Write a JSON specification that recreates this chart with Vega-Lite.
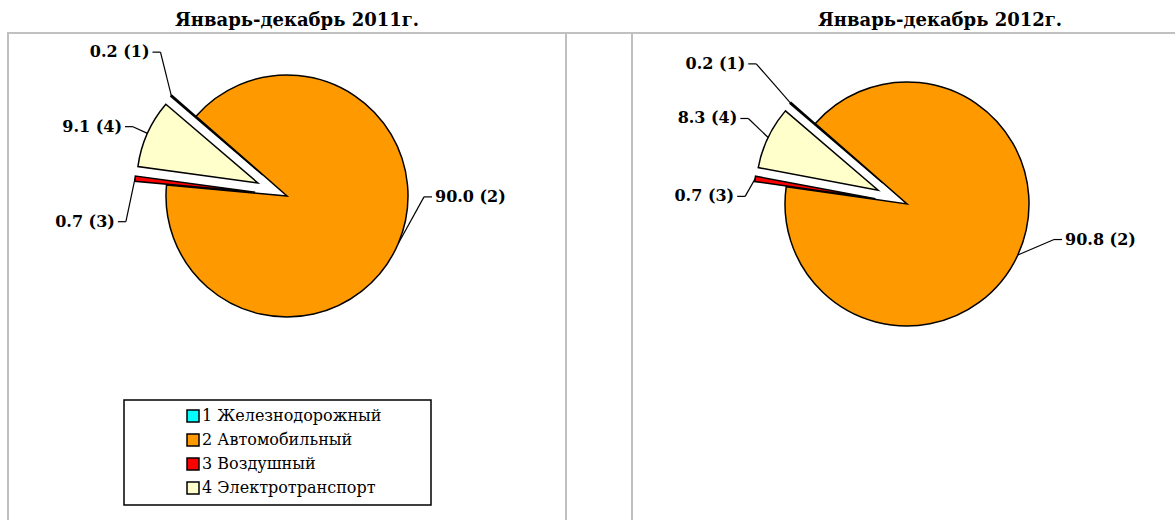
{
  "$schema": "https://vega.github.io/schema/vega-lite/v6.json",
  "padding": {"left": 7, "top": 11, "right": 0, "bottom": 0},
  "autosize": {"type": "pad"},
  "bounds": "flush",
  "spacing": 0,
  "background": "white",
  "config": {
    "view": {"stroke": "#c0c0c0", "strokeWidth": 2},
    "font": "DejaVu Serif",
    "title": {"font": "DejaVu Serif", "fontSize": 18, "fontWeight": "bold", "color": "black", "offset": 3},
    "legend": {"strokeWidth": 1.5}
  },
  "resolve": {"legend": {"color": "independent"}},
  "hconcat": [
    {
      "width": 558,
      "height": 495,
      "view": {"stroke": "#c0c0c0", "strokeWidth": 2},
      "title": {"text": "Январь-декабрь 2011г.", "dx": 10},
      "data": {"values": [
        {"code": 1, "name": "1 Железнодорожный", "value": 0.2, "label": "0.2 (1)"},
        {"code": 2, "name": "2 Автомобильный", "value": 90.0, "label": "90.0 (2)"},
        {"code": 3, "name": "3 Воздушный", "value": 0.7, "label": "0.7 (3)"},
        {"code": 4, "name": "4 Электротранспорт", "value": 9.1, "label": "9.1 (4)"}
      ]},
      "transform": [{"stack": "value", "groupby": [], "sort": [{"field": "code"}], "as": ["v0", "v1"]}],
      "layer": [
        {
          "mark": {
            "type": "arc", "radius": 121, "stroke": "black", "strokeWidth": 1.5,
            "x": 279, "y": 163,
            "xOffset": {"expr": "datum.code == 2 ? 0 : 32*sin(5.42 + PI*(datum.v0+datum.v1)/100)"},
            "yOffset": {"expr": "datum.code == 2 ? 0 : -32*cos(5.42 + PI*(datum.v0+datum.v1)/100)"}
          },
          "encoding": {
            "theta": {"field": "v0", "type": "quantitative", "scale": {"domain": [0, 100], "range": [5.42, 11.7032]}},
            "theta2": {"field": "v1"},
            "color": {
              "field": "name", "type": "nominal",
              "scale": {"domain": ["1 Железнодорожный", "2 Автомобильный", "3 Воздушный", "4 Электротранспорт"], "range": ["#00FFFF", "#FF9900", "#FF0000", "#FFFFCC"]},
              "legend": {
                "title": null, "orient": "none", "legendX": 116, "legendY": 367,
                "symbolType": "square", "symbolSize": 144, "symbolStrokeColor": "black", "symbolStrokeWidth": 1.5,
                "labelFont": "DejaVu Serif", "labelFontSize": 16, "labelColor": "black", "labelLimit": 500,
                "rowPadding": 6, "padding": 8, "strokeColor": "black", "fillColor": "white",
                "symbolOffset": 53, "labelOffset": 1,
                "labelExpr": "datum.label + '\u00a0\u00a0\u00a0\u00a0\u00a0\u00a0\u00a0\u00a0\u200b'"
              }
            }
          }
        },
        {
          "mark": {"type": "rule", "color": "black", "strokeWidth": 1.2},
          "encoding": {
            "x": {"value": {"expr": "279+(datum.code==1?199:datum.code==4?179:datum.code==3?174:148)*sin(5.42+PI*(datum.v0+datum.v1)/100+(datum.code==1?0.094:datum.code==4?-0.024:datum.code==3?-0.262:-0.4))-3*(sin(5.42+PI*(datum.v0+datum.v1)/100+(datum.code==1?0.094:datum.code==4?-0.024:datum.code==3?-0.262:-0.4))<0?-1:1)"}},
            "x2": {"value": {"expr": "279+(datum.code==1?199:datum.code==4?179:datum.code==3?174:148)*sin(5.42+PI*(datum.v0+datum.v1)/100+(datum.code==1?0.094:datum.code==4?-0.024:datum.code==3?-0.262:-0.4))-11*(sin(5.42+PI*(datum.v0+datum.v1)/100+(datum.code==1?0.094:datum.code==4?-0.024:datum.code==3?-0.262:-0.4))<0?-1:1)"}},
            "y": {"value": {"expr": "163-(datum.code==1?199:datum.code==4?179:datum.code==3?174:148)*cos(5.42+PI*(datum.v0+datum.v1)/100+(datum.code==1?0.094:datum.code==4?-0.024:datum.code==3?-0.262:-0.4))"}},
            "y2": {"value": {"expr": "163-(datum.code==1?199:datum.code==4?179:datum.code==3?174:148)*cos(5.42+PI*(datum.v0+datum.v1)/100+(datum.code==1?0.094:datum.code==4?-0.024:datum.code==3?-0.262:-0.4))"}}
          }
        },
        {
          "mark": {"type": "rule", "color": "black", "strokeWidth": 1.2},
          "encoding": {
            "x": {"value": {"expr": "279+(datum.code==1?199:datum.code==4?179:datum.code==3?174:148)*sin(5.42+PI*(datum.v0+datum.v1)/100+(datum.code==1?0.094:datum.code==4?-0.024:datum.code==3?-0.262:-0.4))-11*(sin(5.42+PI*(datum.v0+datum.v1)/100+(datum.code==1?0.094:datum.code==4?-0.024:datum.code==3?-0.262:-0.4))<0?-1:1)"}},
            "y": {"value": {"expr": "163-(datum.code==1?199:datum.code==4?179:datum.code==3?174:148)*cos(5.42+PI*(datum.v0+datum.v1)/100+(datum.code==1?0.094:datum.code==4?-0.024:datum.code==3?-0.262:-0.4))"}},
            "x2": {"value": {"expr": "279+(datum.code==2?121:153)*sin(5.42+PI*(datum.v0+datum.v1)/100)"}},
            "y2": {"value": {"expr": "163-(datum.code==2?121:153)*cos(5.42+PI*(datum.v0+datum.v1)/100)"}}
          }
        },
        {
          "mark": {
            "type": "text", "font": "DejaVu Serif", "fontSize": 16, "fontWeight": "bold", "color": "black",
            "baseline": "middle",
            "x": 279, "y": 163,
            "theta": {"expr": "5.42+PI*(datum.v0+datum.v1)/100+(datum.code==1?0.094:datum.code==4?-0.024:datum.code==3?-0.262:-0.4)"},
            "radius": {"expr": "datum.code==1?199:datum.code==4?179:datum.code==3?174:148"},
            "align": {"expr": "sin(5.42+PI*(datum.v0+datum.v1)/100+(datum.code==1?0.094:datum.code==4?-0.024:datum.code==3?-0.262:-0.4)) < 0 ? 'right' : 'left'"}
          },
          "encoding": {"text": {"field": "label"}}
        }
      ]
    },
    {
      "width": 66,
      "height": 495,
      "view": {"stroke": "#c0c0c0", "strokeWidth": 2},
      "data": {"values": [{}]},
      "mark": {"type": "text"},
      "encoding": {"text": {"value": ""}}
    },
    {
      "width": 550,
      "height": 495,
      "view": {"stroke": "#c0c0c0", "strokeWidth": 2},
      "title": {"text": "Январь-декабрь 2012г.", "dx": 33},
      "data": {"values": [
        {"code": 1, "name": "1 Железнодорожный", "value": 0.2, "label": "0.2 (1)"},
        {"code": 2, "name": "2 Автомобильный", "value": 90.8, "label": "90.8 (2)"},
        {"code": 3, "name": "3 Воздушный", "value": 0.7, "label": "0.7 (3)"},
        {"code": 4, "name": "4 Электротранспорт", "value": 8.3, "label": "8.3 (4)"}
      ]},
      "transform": [{"stack": "value", "groupby": [], "sort": [{"field": "code"}], "as": ["v0", "v1"]}],
      "layer": [
        {
          "mark": {
            "type": "arc", "radius": 122, "stroke": "black", "strokeWidth": 1.5,
            "x": 275, "y": 171,
            "xOffset": {"expr": "datum.code == 2 ? 0 : 32*sin(5.42 + PI*(datum.v0+datum.v1)/100)"},
            "yOffset": {"expr": "datum.code == 2 ? 0 : -32*cos(5.42 + PI*(datum.v0+datum.v1)/100)"}
          },
          "encoding": {
            "theta": {"field": "v0", "type": "quantitative", "scale": {"domain": [0, 100], "range": [5.42, 11.7032]}},
            "theta2": {"field": "v1"},
            "color": {
              "field": "name", "type": "nominal",
              "scale": {"domain": ["1 Железнодорожный", "2 Автомобильный", "3 Воздушный", "4 Электротранспорт"], "range": ["#00FFFF", "#FF9900", "#FF0000", "#FFFFCC"]},
              "legend": null
            }
          }
        },
        {
          "mark": {"type": "rule", "color": "black", "strokeWidth": 1.2},
          "encoding": {
            "x": {"value": {"expr": "275+(datum.code==1?214:datum.code==4?190:datum.code==3?173:162)*sin(5.42+PI*(datum.v0+datum.v1)/100+(datum.code==1?0:datum.code==4?0.02:datum.code==3?-0.12:-0.21))-3*(sin(5.42+PI*(datum.v0+datum.v1)/100+(datum.code==1?0:datum.code==4?0.02:datum.code==3?-0.12:-0.21))<0?-1:1)"}},
            "x2": {"value": {"expr": "275+(datum.code==1?214:datum.code==4?190:datum.code==3?173:162)*sin(5.42+PI*(datum.v0+datum.v1)/100+(datum.code==1?0:datum.code==4?0.02:datum.code==3?-0.12:-0.21))-11*(sin(5.42+PI*(datum.v0+datum.v1)/100+(datum.code==1?0:datum.code==4?0.02:datum.code==3?-0.12:-0.21))<0?-1:1)"}},
            "y": {"value": {"expr": "171-(datum.code==1?214:datum.code==4?190:datum.code==3?173:162)*cos(5.42+PI*(datum.v0+datum.v1)/100+(datum.code==1?0:datum.code==4?0.02:datum.code==3?-0.12:-0.21))"}},
            "y2": {"value": {"expr": "171-(datum.code==1?214:datum.code==4?190:datum.code==3?173:162)*cos(5.42+PI*(datum.v0+datum.v1)/100+(datum.code==1?0:datum.code==4?0.02:datum.code==3?-0.12:-0.21))"}}
          }
        },
        {
          "mark": {"type": "rule", "color": "black", "strokeWidth": 1.2},
          "encoding": {
            "x": {"value": {"expr": "275+(datum.code==1?214:datum.code==4?190:datum.code==3?173:162)*sin(5.42+PI*(datum.v0+datum.v1)/100+(datum.code==1?0:datum.code==4?0.02:datum.code==3?-0.12:-0.21))-11*(sin(5.42+PI*(datum.v0+datum.v1)/100+(datum.code==1?0:datum.code==4?0.02:datum.code==3?-0.12:-0.21))<0?-1:1)"}},
            "y": {"value": {"expr": "171-(datum.code==1?214:datum.code==4?190:datum.code==3?173:162)*cos(5.42+PI*(datum.v0+datum.v1)/100+(datum.code==1?0:datum.code==4?0.02:datum.code==3?-0.12:-0.21))"}},
            "x2": {"value": {"expr": "275+(datum.code==2?122:154)*sin(5.42+PI*(datum.v0+datum.v1)/100)"}},
            "y2": {"value": {"expr": "171-(datum.code==2?122:154)*cos(5.42+PI*(datum.v0+datum.v1)/100)"}}
          }
        },
        {
          "mark": {
            "type": "text", "font": "DejaVu Serif", "fontSize": 16, "fontWeight": "bold", "color": "black",
            "baseline": "middle",
            "x": 275, "y": 171,
            "theta": {"expr": "5.42+PI*(datum.v0+datum.v1)/100+(datum.code==1?0:datum.code==4?0.02:datum.code==3?-0.12:-0.21)"},
            "radius": {"expr": "datum.code==1?214:datum.code==4?190:datum.code==3?173:162"},
            "align": {"expr": "sin(5.42+PI*(datum.v0+datum.v1)/100+(datum.code==1?0:datum.code==4?0.02:datum.code==3?-0.12:-0.21)) < 0 ? 'right' : 'left'"}
          },
          "encoding": {"text": {"field": "label"}}
        }
      ]
    }
  ]
}
